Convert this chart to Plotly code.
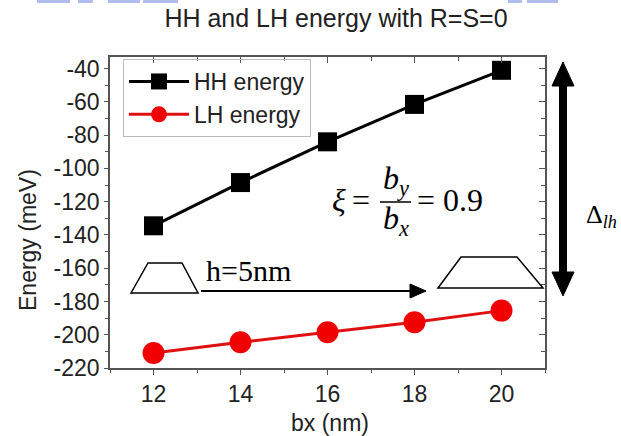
import plotly.graph_objects as go

# ---- data ----
bx = [12, 14, 16, 18, 20]
hh_energy = [-134.5, -108.5, -84, -61.5, -41]
lh_energy = [-211, -204.5, -198.5, -192.5, -185.5]
x_ticks = [12, 14, 16, 18, 20]
y_ticks = [-220, -200, -180, -160, -140, -120, -100, -80, -60, -40]
y_tick_text = ["-220", "-200", "-180", "-160", "-140", "-120", "-100", "-80", "-60", "-40"]

W, H = 621, 436
L, R, T, B = 110, 545, 57, 368  # plot area in pixels


def px(x):
    return (x - L) / (R - L)


def py(y):
    return (B - y) / (B - T)


fig = go.Figure()
fig.add_trace(go.Scatter(x=bx, y=hh_energy, mode="lines+markers", name="HH energy",
                         line=dict(color="black", width=3),
                         marker=dict(symbol="square", size=19, color="black")))
fig.add_trace(go.Scatter(x=bx, y=lh_energy, mode="lines+markers", name="LH energy",
                         line=dict(color="#e01010", width=3),
                         marker=dict(symbol="circle", size=22, color="#f00000")))

axis_font = dict(family="Liberation Sans, Arial", size=23, color="#222")
fig.update_layout(
    width=W, height=H,
    margin=dict(l=L, r=W - R, t=T, b=H - B),
    paper_bgcolor="white", plot_bgcolor="white",
    showlegend=True,
    legend=dict(x=px(123), y=py(59), xanchor="left", yanchor="top",
                bgcolor="rgba(255,255,255,0)", bordercolor="#bbb", borderwidth=1,
                font=dict(family="Liberation Sans, Arial", size=23, color="#222"),
                itemwidth=60, tracegroupgap=0),
    title=dict(text="HH and LH energy with R=S=0", x=336 / W, xanchor="center",
               y=1 - 18 / H, yanchor="middle",
               font=dict(family="Liberation Sans, Arial", size=25, color="#222")),
    xaxis=dict(range=[11, 21], tickvals=x_ticks, ticks="outside", ticklen=5, tickwidth=1.2,
               tickcolor="#555", showline=True, linecolor="#555", linewidth=1.5, mirror=True,
               showgrid=False, zeroline=False, tickfont=axis_font,
               minor=dict(dtick=1, ticks="outside", ticklen=3, tickcolor="#555", showgrid=False)),
    yaxis=dict(range=[-220, -33], tickvals=y_ticks, ticktext=y_tick_text, ticks="outside",
               ticklen=4, tickwidth=1.2,
               tickcolor="#555", showline=True, linecolor="#555", linewidth=1.5, mirror=True,
               showgrid=False, zeroline=False, tickfont=axis_font, ticklabelstandoff=0,
               minor=dict(dtick=10, tick0=-220, ticks="outside", ticklen=3, tickcolor="#555", showgrid=False)),
    xaxis2=dict(range=[11, 21], overlaying="x", side="top", tickvals=x_ticks, ticks="inside",
                ticklen=6, tickcolor="#555", showticklabels=False, showgrid=False, zeroline=False,
                minor=dict(dtick=1, ticks="inside", ticklen=4, tickcolor="#555")),
    yaxis2=dict(range=[-220, -33], overlaying="y", side="right", tickvals=y_ticks, ticks="inside",
                ticklen=6, tickcolor="#555", showticklabels=False, showgrid=False, zeroline=False,
                minor=dict(dtick=10, tick0=-220, ticks="inside", ticklen=4, tickcolor="#555")),
)
# invisible trace to anchor the mirrored tick axes
fig.add_trace(go.Scatter(x=[None], y=[None], xaxis="x2", yaxis="y2", showlegend=False,
                         hoverinfo="skip"))

serif = "Liberation Serif, Times New Roman"
sans = "Liberation Sans, Arial"


def note(text, x, y, size, family=serif, xanchor="center", angle=0, color="black"):
    return dict(text=text, x=px(x), y=py(y), xref="paper", yref="paper", showarrow=False,
                xanchor=xanchor, yanchor="middle", textangle=angle,
                font=dict(family=family, size=size, color=color))


ann = [
    note("Energy (meV)", 28, 240, 23, family=sans, angle=-90, color="#222"),
    note("bx (nm)", 330, 423, 23, family=sans, color="#222"),
    note("<i>ξ</i>", 339, 200, 32),
    note("=", 361, 200, 32),
    note("<i>b<sub>y</sub></i>", 396, 180, 32),
    note("<i>b<sub>x</sub></i>", 396, 220, 32),
    note("= 0.9", 415, 200, 32, xanchor="left"),
    note("Δ<sub><i>lh</i></sub>", 584, 216, 26, xanchor="left"),
    note("h=5nm", 204, 270, 30, xanchor="left"),
]
fig.update_layout(annotations=ann)


def path(points, close=True):
    s = "M " + " L ".join(f"{px(a)},{py(b)}" for a, b in points)
    return s + (" Z" if close else "")


shapes = []
# fraction bar
shapes.append(dict(type="line", xref="paper", yref="paper", x0=px(380), x1=px(411),
                   y0=py(202), y1=py(202), line=dict(color="black", width=1.5)))
# trapezoids
shapes.append(dict(type="path", xref="paper", yref="paper",
                   path=path([(131, 293), (148, 263), (182, 263), (198, 293)]),
                   line=dict(color="black", width=1.5), fillcolor="white"))
shapes.append(dict(type="path", xref="paper", yref="paper",
                   path=path([(438, 288), (461, 257), (517, 257), (543, 288)]),
                   line=dict(color="black", width=1.5), fillcolor="white"))
# horizontal arrow
shapes.append(dict(type="line", xref="paper", yref="paper", x0=px(201), x1=px(412),
                   y0=py(291), y1=py(291), line=dict(color="black", width=2)))
shapes.append(dict(type="path", xref="paper", yref="paper",
                   path=path([(410, 284), (426, 291), (410, 298)]),
                   line=dict(color="black", width=1), fillcolor="black"))
# vertical double arrow
shapes.append(dict(type="line", xref="paper", yref="paper", x0=px(563), x1=px(563),
                   y0=py(82), y1=py(275), line=dict(color="black", width=8)))
shapes.append(dict(type="path", xref="paper", yref="paper",
                   path=path([(552, 86), (563, 62), (574, 86)]),
                   line=dict(color="black", width=1), fillcolor="black"))
shapes.append(dict(type="path", xref="paper", yref="paper",
                   path=path([(552, 272), (563, 296), (574, 272)]),
                   line=dict(color="black", width=1), fillcolor="black"))
# cropped blue fragments at the very top edge
for a, b in [(37, 70), (78, 93), (108, 140), (143, 178), (508, 522), (527, 558)]:
    shapes.append(dict(type="rect", xref="paper", yref="paper", x0=px(a), x1=px(b),
                       y0=py(0), y1=py(3), line=dict(width=0), fillcolor="#b3bcef"))
fig.update_layout(shapes=shapes)

fig.write_html("out.html", config={"displayModeBar": False},
               post_script="document.body.style.margin='0';document.body.style.overflow='hidden';")
